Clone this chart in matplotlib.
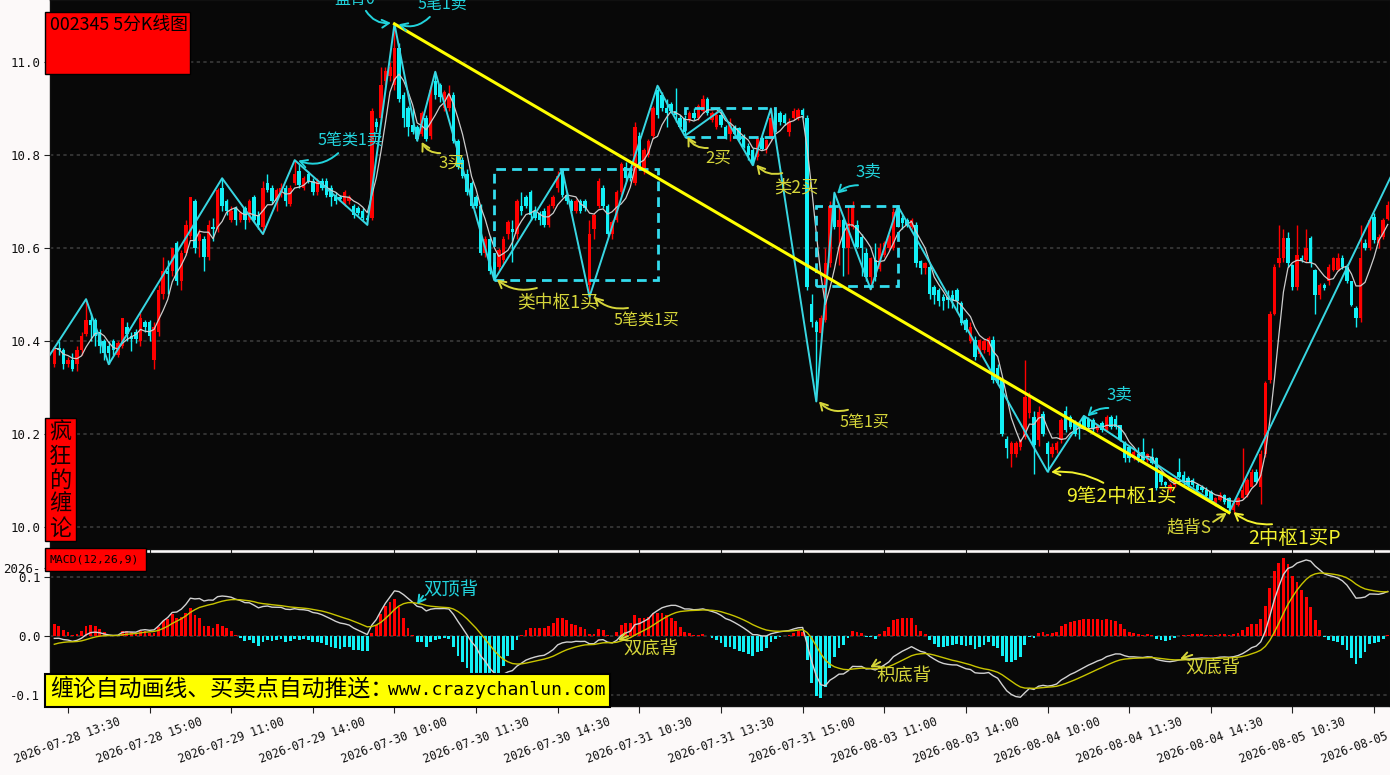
import numpy as np
import pandas as pd
import matplotlib
matplotlib.use("Agg")
import matplotlib.pyplot as plt
from matplotlib.patches import Rectangle

# ---------------- data (5-minute bars) ----------------
opens = [
10.35,10.385,10.38,10.35,10.36,10.35,10.38,10.415,10.445,10.445,
10.42,10.40,10.39,10.40,10.37,10.39,10.43,10.41,10.42,10.40,
10.44,10.44,10.36,10.42,10.50,10.55,10.55,10.61,10.53,10.59,
10.625,10.70,10.615,10.62,10.58,10.645,10.64,10.73,10.70,10.66,
10.685,10.66,10.685,10.66,10.71,10.67,10.645,10.74,10.73,10.70,
10.72,10.73,10.695,10.74,10.765,10.73,10.76,10.745,10.72,10.745,
10.745,10.73,10.715,10.71,10.695,10.70,10.69,10.685,10.68,10.665,
10.665,10.87,10.88,10.96,10.97,10.95,11.03,10.93,10.90,10.865,
10.86,10.845,10.88,10.84,10.96,10.95,10.90,10.90,10.93,10.83,
10.79,10.76,10.74,10.71,10.69,10.59,10.62,10.57,10.56,10.575,
10.63,10.64,10.63,10.69,10.71,10.72,10.68,10.675,10.68,10.65,
10.69,10.73,10.765,10.715,10.70,10.68,10.70,10.70,10.52,10.64,
10.69,10.73,10.69,10.63,10.66,10.72,10.775,10.77,10.74,10.84,
10.765,10.80,10.84,10.94,10.93,10.90,10.91,10.895,10.88,10.88,
10.875,10.89,10.88,10.895,10.92,10.875,10.86,10.885,10.86,10.845,
10.86,10.857,10.84,10.82,10.81,10.796,10.836,10.812,10.835,10.89,
10.89,10.885,10.85,10.88,10.88,10.897,10.88,10.48,10.44,10.417,
10.445,10.567,10.69,10.646,10.66,10.60,10.646,10.65,10.624,10.589,
10.538,10.574,10.555,10.585,10.60,10.60,10.682,10.664,10.66,10.646,
10.649,10.571,10.556,10.56,10.517,10.51,10.495,10.495,10.499,10.51,
10.481,10.445,10.40,10.402,10.373,10.381,10.377,10.402,10.341,10.316,
10.19,10.158,10.158,10.173,10.194,10.245,10.237,10.187,10.244,10.18,
10.158,10.165,10.187,10.25,10.237,10.223,10.223,10.237,10.233,10.23,
10.209,10.223,10.209,10.237,10.233,10.219,10.183,10.173,10.148,10.158,
10.162,10.144,10.151,10.148,10.115,10.097,10.08,10.09,10.119,10.112,
10.105,10.101,10.09,10.087,10.08,10.076,10.051,10.058,10.069,10.062,
10.036,10.047,10.062,10.069,10.087,10.119,10.087,10.158,10.316,10.459,
10.567,10.578,10.621,10.563,10.517,10.578,10.574,10.621,10.553,10.499,
10.52,10.528,10.553,10.553,10.578,10.56,10.528,10.47,10.449,10.61,
10.599,10.667,10.61,10.624,10.663]

highs = [
10.39,10.40,10.385,10.365,10.375,10.39,10.42,10.49,10.46,10.45,
10.425,10.405,10.40,10.405,10.40,10.45,10.44,10.42,10.425,10.46,
10.445,10.445,10.44,10.52,10.58,10.575,10.60,10.615,10.595,10.66,
10.71,10.705,10.64,10.625,10.66,10.665,10.73,10.75,10.705,10.69,
10.69,10.68,10.69,10.705,10.715,10.68,10.745,10.76,10.735,10.73,
10.74,10.735,10.735,10.789,10.78,10.755,10.765,10.75,10.75,10.75,
10.75,10.735,10.72,10.715,10.725,10.715,10.695,10.69,10.685,10.67,
10.90,10.88,10.99,10.99,11.00,11.082,11.04,10.935,10.905,10.90,
10.865,10.895,10.885,10.95,10.979,10.955,10.94,10.95,10.935,10.835,
10.795,10.77,10.745,10.715,10.695,10.625,10.625,10.575,10.60,10.625,
10.66,10.66,10.705,10.72,10.715,10.725,10.69,10.68,10.685,10.695,
10.715,10.765,10.768,10.72,10.705,10.705,10.705,10.705,10.66,10.675,
10.75,10.735,10.695,10.66,10.725,10.785,10.785,10.775,10.87,10.85,
10.815,10.835,10.905,10.949,10.935,10.92,10.915,10.945,10.885,10.885,
10.895,10.90,10.91,10.93,10.925,10.895,10.895,10.897,10.865,10.88,
10.865,10.86,10.845,10.825,10.815,10.84,10.84,10.835,10.90,10.90,
10.895,10.89,10.88,10.90,10.90,10.90,10.885,10.50,10.445,10.455,
10.60,10.70,10.719,10.689,10.665,10.69,10.70,10.66,10.63,10.60,
10.58,10.61,10.61,10.615,10.63,10.685,10.69,10.67,10.665,10.665,
10.655,10.575,10.57,10.565,10.52,10.515,10.50,10.51,10.51,10.515,
10.485,10.45,10.44,10.41,10.405,10.405,10.41,10.41,10.35,10.32,
10.195,10.185,10.185,10.19,10.36,10.29,10.25,10.26,10.25,10.185,
10.18,10.185,10.235,10.26,10.24,10.23,10.228,10.239,10.237,10.235,
10.22,10.228,10.24,10.24,10.24,10.22,10.185,10.175,10.165,10.173,
10.191,10.16,10.169,10.15,10.12,10.10,10.095,10.11,10.148,10.12,
10.11,10.105,10.095,10.09,10.085,10.08,10.065,10.075,10.072,10.065,
10.055,10.065,10.17,10.105,10.125,10.125,10.165,10.315,10.465,10.565,
10.65,10.64,10.635,10.565,10.65,10.585,10.64,10.625,10.555,10.525,
10.525,10.565,10.58,10.59,10.585,10.565,10.53,10.475,10.65,10.62,
10.66,10.675,10.63,10.665,10.70]

lows = [
10.345,10.37,10.34,10.345,10.335,10.335,10.37,10.41,10.40,10.39,
10.375,10.36,10.35,10.37,10.365,10.385,10.40,10.378,10.395,10.39,
10.42,10.40,10.34,10.41,10.49,10.50,10.54,10.52,10.51,10.585,
10.62,10.59,10.58,10.55,10.575,10.615,10.635,10.68,10.67,10.655,
10.65,10.655,10.64,10.655,10.655,10.64,10.63,10.72,10.695,10.68,
10.71,10.69,10.69,10.735,10.73,10.725,10.74,10.715,10.715,10.725,
10.71,10.69,10.695,10.70,10.69,10.695,10.665,10.67,10.66,10.65,
10.66,10.85,10.87,10.95,10.96,10.94,10.915,10.86,10.84,10.845,
10.831,10.84,10.83,10.835,10.92,10.915,10.895,10.895,10.825,10.77,
10.75,10.715,10.685,10.685,10.585,10.58,10.545,10.531,10.55,10.565,
10.62,10.57,10.62,10.67,10.685,10.66,10.66,10.65,10.645,10.645,
10.685,10.72,10.71,10.695,10.675,10.675,10.675,10.68,10.495,10.62,
10.685,10.685,10.625,10.62,10.655,10.715,10.745,10.745,10.735,10.77,
10.76,10.795,10.835,10.88,10.895,10.86,10.89,10.87,10.855,10.841,
10.87,10.875,10.875,10.89,10.885,10.87,10.855,10.86,10.835,10.83,
10.84,10.83,10.815,10.79,10.778,10.79,10.81,10.805,10.83,10.86,
10.865,10.865,10.84,10.875,10.875,10.88,10.51,10.43,10.27,10.40,
10.44,10.56,10.64,10.563,10.54,10.545,10.64,10.60,10.54,10.53,
10.511,10.53,10.55,10.58,10.595,10.595,10.645,10.64,10.645,10.64,
10.56,10.545,10.545,10.49,10.48,10.475,10.467,10.47,10.47,10.462,
10.435,10.42,10.395,10.36,10.365,10.375,10.37,10.31,10.305,10.195,
10.148,10.13,10.15,10.165,10.19,10.235,10.115,10.175,10.195,10.119,
10.15,10.16,10.18,10.205,10.21,10.195,10.19,10.21,10.21,10.205,
10.205,10.205,10.205,10.21,10.21,10.185,10.14,10.14,10.145,10.14,
10.14,10.14,10.135,10.08,10.09,10.085,10.075,10.085,10.105,10.09,
10.085,10.085,10.075,10.075,10.062,10.055,10.045,10.055,10.05,10.031,
10.033,10.045,10.06,10.065,10.085,10.095,10.05,10.15,10.31,10.455,
10.56,10.57,10.56,10.51,10.51,10.57,10.57,10.56,10.459,10.49,
10.51,10.52,10.55,10.55,10.555,10.525,10.475,10.431,10.44,10.595,
10.595,10.61,10.60,10.62,10.66]

closes = [
10.385,10.38,10.35,10.36,10.34,10.38,10.41,10.445,10.435,10.41,
10.39,10.375,10.375,10.38,10.395,10.45,10.415,10.405,10.405,10.45,
10.43,10.41,10.43,10.51,10.55,10.545,10.60,10.53,10.59,10.65,
10.71,10.60,10.63,10.58,10.65,10.64,10.725,10.69,10.68,10.68,
10.66,10.675,10.66,10.70,10.66,10.65,10.73,10.725,10.70,10.725,
10.73,10.70,10.73,10.76,10.735,10.75,10.745,10.72,10.745,10.73,
10.715,10.71,10.70,10.705,10.72,10.71,10.67,10.675,10.665,10.66,
10.895,10.86,10.95,10.98,10.99,11.03,10.92,10.88,10.86,10.85,
10.835,10.89,10.835,10.94,10.93,10.925,10.935,10.93,10.83,10.775,
10.755,10.72,10.69,10.69,10.59,10.62,10.55,10.555,10.595,10.62,
10.655,10.635,10.70,10.68,10.69,10.67,10.665,10.66,10.65,10.69,
10.71,10.755,10.715,10.70,10.68,10.70,10.68,10.685,10.63,10.67,
10.745,10.69,10.63,10.655,10.72,10.78,10.75,10.75,10.86,10.775,
10.81,10.83,10.90,10.885,10.90,10.89,10.895,10.885,10.86,10.85,
10.89,10.88,10.905,10.92,10.89,10.89,10.885,10.865,10.84,10.865,
10.845,10.832,10.818,10.80,10.78,10.836,10.812,10.832,10.88,10.865,
10.87,10.868,10.87,10.895,10.897,10.885,10.517,10.44,10.42,10.449,
10.567,10.69,10.646,10.66,10.60,10.653,10.689,10.603,10.60,10.538,
10.578,10.538,10.60,10.61,10.625,10.678,10.646,10.653,10.65,10.66,
10.567,10.556,10.567,10.50,10.499,10.485,10.485,10.488,10.485,10.485,
10.438,10.424,10.43,10.366,10.402,10.399,10.406,10.316,10.309,10.20,
10.169,10.18,10.18,10.187,10.28,10.28,10.176,10.248,10.201,10.158,
10.173,10.18,10.23,10.209,10.216,10.201,10.212,10.216,10.216,10.212,
10.219,10.209,10.237,10.216,10.216,10.187,10.148,10.148,10.162,10.148,
10.144,10.158,10.137,10.083,10.097,10.09,10.09,10.105,10.108,10.097,
10.09,10.09,10.08,10.08,10.066,10.058,10.062,10.069,10.054,10.04,
10.051,10.062,10.08,10.101,10.119,10.097,10.158,10.309,10.459,10.56,
10.578,10.621,10.567,10.517,10.585,10.574,10.60,10.567,10.499,10.52,
10.513,10.56,10.578,10.578,10.56,10.528,10.477,10.449,10.578,10.599,
10.66,10.617,10.624,10.66,10.692]

# Chan-theory strokes (bi) : pivot bar index and price
bi_index = [-1, 7, 12, 37, 46, 53, 69, 75, 80, 84, 97, 112, 118, 133, 139, 147,
            154, 158, 168, 172, 180, 186, 219, 227, 259, 296]
bi_price = [10.37, 10.49, 10.35, 10.75, 10.63, 10.789, 10.65, 11.082, 10.831, 10.979,
            10.531, 10.768, 10.495, 10.949, 10.841, 10.897, 10.778, 10.90, 10.27,
            10.719, 10.511, 10.69, 10.119, 10.239, 10.031, 10.78]

# trend line (from top to final low)
trend_index = [75, 259]
trend_price = [11.082, 10.031]

# pivot zones (zhongshu): start idx, end idx, low, high
zones = [(97, 133, 10.531, 10.770), (139, 159, 10.839, 10.901), (168, 186, 10.519, 10.690)]

tick_index = [3, 21, 39, 57, 75, 93, 111, 129, 147, 165, 183, 201, 219, 237, 255, 273, 291]
tick_labels = ['2026-07-28 13:30', '2026-07-28 15:00', '2026-07-29 11:00', '2026-07-29 14:00',
               '2026-07-30 10:00', '2026-07-30 11:30', '2026-07-30 14:30', '2026-07-31 10:30',
               '2026-07-31 13:30', '2026-07-31 15:00', '2026-08-03 11:00', '2026-08-03 14:00',
               '2026-08-04 10:00', '2026-08-04 11:30', '2026-08-04 14:30', '2026-08-05 10:30',
               '2026-08-05 13:30']
price_ticks = [10.0, 10.2, 10.4, 10.6, 10.8, 11.0]
macd_ticks = [-0.1, 0.0, 0.1]

CYAN_T = '#22d3dc'
YEL_T = '#d6d63a'
YEL_B = '#f2f22e'
# (text, text idx, text price, tail idx, tail price, head idx, head price, color, size, rad)
main_notes = [
    ('盘背0', 66.3, 11.135, 68.7, 11.110, 74.2, 11.084, CYAN_T, 11.5, 0.3),
    ('5笔1卖', 85.5, 11.124, 82.8, 11.097, 75.9, 11.081, CYAN_T, 11.5, -0.3),
    ('5笔类1卖', 65.2, 10.832, 62.6, 10.804, 53.8, 10.788, CYAN_T, 11.5, -0.3),
    ('3买', 87.5, 10.783, 85.1, 10.804, 81.0, 10.828, YEL_T, 12, -0.3),
    ('类中枢1买', 110.9, 10.484, 106.4, 10.514, 97.6, 10.532, YEL_T, 12.8, -0.25),
    ('5笔类1买', 130.5, 10.445, 126.5, 10.471, 119.0, 10.495, YEL_T, 11.5, -0.25),
    ('2买', 146.4, 10.794, 144.1, 10.815, 139.6, 10.839, YEL_T, 12, -0.3),
    ('类2买', 163.6, 10.731, 160.5, 10.761, 154.8, 10.779, YEL_T, 12.5, -0.3),
    ('3卖', 179.4, 10.763, 177.2, 10.735, 172.6, 10.717, CYAN_T, 12, 0.2),
    ('5笔1买', 178.5, 10.224, 175.0, 10.252, 168.6, 10.270, YEL_T, 11.5, -0.3),
    ('3卖', 234.8, 10.284, 232.4, 10.256, 227.8, 10.238, CYAN_T, 12, 0.2),
    ('9笔2中枢1买', 235.2, 10.065, 231.3, 10.095, 219.8, 10.118, YEL_B, 14, 0.15),
    ('趋背S', 250.2, 10.000, 255.5, 10.011, 258.5, 10.030, YEL_T, 12.5, 0.0),
    ('2中枢1买P', 273.4, 9.976, 268.5, 10.006, 260.0, 10.032, YEL_B, 14, -0.2),
]
macd_notes = [
    ('双顶背', 87.5, 0.078, 81.3, 0.068, 80.0, 0.054, CYAN_T, 13.2, 0.0),
    ('双底背', 131.6, -0.022, 126.5, 0.000, 124.3, -0.007, YEL_T, 13.2, 0.0),
    ('积底背', 187.4, -0.068, 182.1, -0.044, 179.9, -0.053, YEL_T, 13.2, 0.0),
    ('双底背', 255.5, -0.054, 250.9, -0.032, 248.2, -0.039, YEL_T, 13.2, 0.0),
]

# ---------------- derived indicators ----------------
O = np.array(opens); Hh = np.array(highs); Lw = np.array(lows); C = np.array(closes)
n = len(C)
xs = np.arange(n)
ma5 = pd.Series(C).rolling(5, min_periods=1).mean().values

e12 = C[0] - 0.004
e26 = C[0]
dea = -0.014
dif_l, dea_l = [], []
for i, c in enumerate(C):
    if i > 0:
        e12 = e12 * 11 / 13 + c * 2 / 13
        e26 = e26 * 25 / 27 + c * 2 / 27
        dea = dea * 8 / 10 + (e12 - e26) * 2 / 10
    dif_l.append(e12 - e26)
    dea_l.append(dea)
dif_a = np.array(dif_l); dea_a = np.array(dea_l)
hist = 2 * (dif_a - dea_a)

# ---------------- figure ----------------
W, Hpx = 1390, 775
RED = '#ff0000'
CYAN = '#12f0f6'
CJK = ['Noto Sans CJK SC', 'DejaVu Sans']
MONO = 'DejaVu Sans Mono'

fig = plt.figure(figsize=(13.9, 7.75), dpi=100, facecolor='#fcf9f9')
ax = fig.add_axes([50 / W, 1 - 549 / Hpx, 1340 / W, 549 / Hpx], facecolor='#080808')
axm = fig.add_axes([50 / W, 1 - 706 / Hpx, 1340 / W, 153 / Hpx], facecolor='#080808')

for a in (ax, axm):
    a.set_xlim(-0.95, 294.5)
    for s in a.spines.values():
        s.set_color('#101010')
        s.set_linewidth(1)

ax.set_ylim(9.9527, 11.1333)
axm.set_ylim(-0.1186, 0.1407)

# grid
for v in price_ticks:
    ax.axhline(v, color='#3a3a3a', lw=1.2, ls=(0, (2, 2)), zorder=1)
for v in macd_ticks:
    axm.axhline(v, color='#3a3a3a', lw=1.2, ls=(0, (2, 2)), zorder=1)

# candles
up = C >= O
cols = np.where(up, RED, CYAN)
ax.vlines(xs, Lw, Hh, colors=cols, lw=1, zorder=2)
body = np.maximum(np.abs(C - O), 0.0022)
ax.bar(xs, body, bottom=np.minimum(O, C), width=0.76, color=cols, lw=0, zorder=3)

# MA line
ax.plot(xs, ma5, color='#cccccc', lw=0.9, zorder=4)

# strokes
ax.plot(bi_index, bi_price, color='#38d6e2', lw=1.4, zorder=5)

# zones
for (i0, i1, p0, p1) in zones:
    ax.add_patch(Rectangle((i0, p0), i1 - i0, p1 - p0, fill=False, ec='#33dcee', lw=2,
                           ls=(0, (3.5, 2.2)), zorder=6))

# trend line
ax.plot(trend_index, trend_price, color='#ffff00', lw=2.2, zorder=7)

# annotations
def note(a, item):
    s, tx, ty, ax0, ay0, hx, hy, col, fs, rad = item
    a.annotate('', xy=(hx, hy), xytext=(ax0, ay0),
               arrowprops=dict(arrowstyle='->,head_length=0.5,head_width=0.28', color=col, lw=1.4,
                               connectionstyle=f'arc3,rad={rad}', shrinkA=0, shrinkB=0),
               zorder=9, annotation_clip=False)
    a.text(tx, ty, s, color=col, fontsize=fs, ha='center', va='center', family=CJK,
           zorder=9, clip_on=False)

for it in main_notes:
    note(ax, it)

# MACD
hcols = np.where(hist >= 0, RED, CYAN)
axm.bar(xs, hist, width=0.62, color=hcols, lw=0, zorder=2)
axm.plot(xs, dif_a, color='#d2d2d2', lw=1.0, zorder=3)
axm.plot(xs, dea_a, color='#c8c400', lw=1.0, zorder=3)
for it in macd_notes:
    note(axm, it)

# ticks
ax.set_yticks(price_ticks)
ax.set_yticklabels([f'{v:.1f}' for v in price_ticks], family=MONO, fontsize=9, color='#111111')
ax.set_xticks(tick_index)
ax.tick_params(axis='x', labelbottom=False, direction='out', length=4, color='#222222')
ax.tick_params(axis='y', direction='out', length=4, color='#222222', pad=3)

axm.set_yticks(macd_ticks + [0.1153])
axm.set_yticklabels(['-0.1', '0.0', '0.1', '2026-'], family=MONO, fontsize=9, color='#111111')
axm.tick_params(axis='y', direction='out', length=4, color='#222222', pad=3)
axm.set_xticks(tick_index)
axm.set_xticklabels(tick_labels, family=MONO, fontsize=8.4, color='#111111', rotation=20,
                    ha='center', va='top')
axm.tick_params(axis='x', direction='out', length=5, color='#222222', pad=2)

# label boxes in figure pixels
def frect(x0, y0, x1, y1, fc, lw=1.0):
    fig.add_artist(Rectangle((x0 / W, 1 - y1 / Hpx), (x1 - x0) / W, (y1 - y0) / Hpx,
                             transform=fig.transFigure, fc=fc, ec='#000000', lw=lw, zorder=10))

def ftext(x, y, s, **kw):
    fig.text(x / W, 1 - y / Hpx, s, zorder=11, **kw)

frect(45, 12, 190, 74, RED)
ftext(50, 25, '002345 5分K线图', ha='left', va='center', fontsize=12.8, color='#000000', family=CJK)

frect(45, 418, 76, 541, RED)
for k, ch in enumerate('疯狂的缠论'):
    ftext(60.5, 432 + 24 * k, ch, ha='center', va='center', fontsize=16, color='#140000', family=CJK)

frect(45, 548, 146, 571, RED)
ftext(50, 559.5, 'MACD(12,26,9)', ha='left', va='center', fontsize=8.2, color='#000000', family=MONO)

frect(45, 674, 610, 707, '#ffff00', lw=1.5)
ftext(50, 690, '缠论自动画线、买卖点自动推送：', ha='left', va='center', fontsize=16.5,
      color='#000000', family=CJK)
ftext(606, 690, 'www.crazychanlun.com', ha='right', va='center', fontsize=13,
      color='#000000', family=MONO)

fig.savefig('out.png', dpi=100, facecolor=fig.get_facecolor())
